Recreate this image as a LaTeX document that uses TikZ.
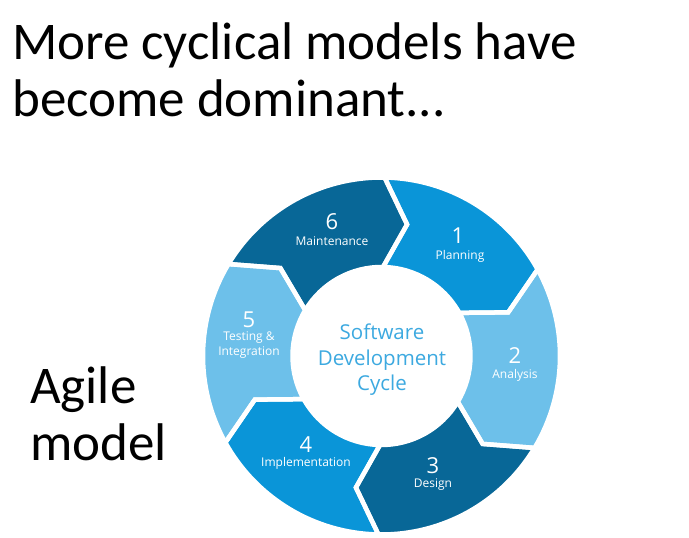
\documentclass[tikz,border=0pt]{standalone}
\usepackage{fontspec}
\setmainfont{Carlito}
\newfontfamily\cyclefont{Open Sans}
\definecolor{segmid}{HTML}{0A95D8}
\definecolor{seglight}{HTML}{6DC0EA}
\definecolor{segdark}{HTML}{086797}
\definecolor{hubtext}{HTML}{3CA9E0}
\tikzset{
  headline/.style={anchor=base west, inner sep=0pt, font=\fontsize{53}{60}\selectfont, text=black},
  stepnum/.style={anchor=center, inner sep=0pt, text=white, font=\cyclefont\fontsize{22}{26}\selectfont},
  steplabel/.style={anchor=center, inner sep=0pt, text=white, align=center, font=\cyclefont\fontsize{12}{15}\selectfont},
  hubline/.style={anchor=base, inner sep=0pt, text=hubtext, font=\cyclefont\fontsize{20.5}{26}\selectfont},
  gapline/.style={draw=white, line width=4.5pt, line join=miter},
}
\begin{document}
\begin{tikzpicture}[x=1pt,y=1pt]
\useasboundingbox (0,0) rectangle (689,538);
\fill[white] (0,0) rectangle (689,538);

% slide headings
\node[headline] (title1) at (12,478) {More cyclical models have};
\node[headline] (title2) at (12,421) {become dominant...};
\node[headline] (agile) at (30,134) {Agile};
\node[headline] (model) at (30,77) {model};

% ring of six chevron segments, clockwise from the top
\begin{scope}[shift={(381.5,182)}]
  \def\Ro{178.5}
  \def\Ri{89}
  \def\Rm{134}
  \foreach \k/\col in {1/segmid,2/seglight,3/segdark,4/segmid,5/seglight,6/segdark}{
    \pgfmathsetmacro{\a}{89-60*(\k-1)}
    \pgfmathsetmacro{\b}{89-60*\k}
    \fill[\col] (\a:\Ro) arc[start angle=\a, end angle=\b, radius=\Ro]
      -- (\b-10:\Rm) -- (\b:\Ri) arc[start angle=\b, end angle=\a, radius=\Ri]
      -- (\a-10:\Rm) -- cycle;
  }
  \foreach \k in {1,...,6}{
    \pgfmathsetmacro{\a}{89-60*(\k-1)}
    \pgfmathsetmacro{\b}{89-60*\k}
    \draw[gapline] (\a:\Ro) arc[start angle=\a, end angle=\b, radius=\Ro]
      -- (\b-10:\Rm) -- (\b:\Ri) arc[start angle=\b, end angle=\a, radius=\Ri]
      -- (\a-10:\Rm) -- cycle;
  }
\end{scope}

% hub text
\node[hubline] (hub1) at (382,198) {Software};
\node[hubline] (hub2) at (382,172.5) {Development};
\node[hubline] (hub3) at (382,147) {Cycle};

% step numbers and names
\node[stepnum] (num1) at (458,302) {1};
\node[steplabel] (lab1) at (460,282) {Planning};
\node[stepnum] (num2) at (515,182) {2};
\node[steplabel] (lab2) at (515,163) {Analysis};
\node[stepnum] (num3) at (433,72) {3};
\node[steplabel] (lab3) at (433,53) {Design};
\node[stepnum] (num4) at (306,93) {4};
\node[steplabel] (lab4) at (306,75) {Implementation};
\node[stepnum] (num5) at (249,218) {5};
\node[steplabel] (lab5) at (249,192.5) {Testing \&\\Integration};
\node[stepnum] (num6) at (332,316) {6};
\node[steplabel] (lab6) at (332,297) {Maintenance};
\end{tikzpicture}
\end{document}
